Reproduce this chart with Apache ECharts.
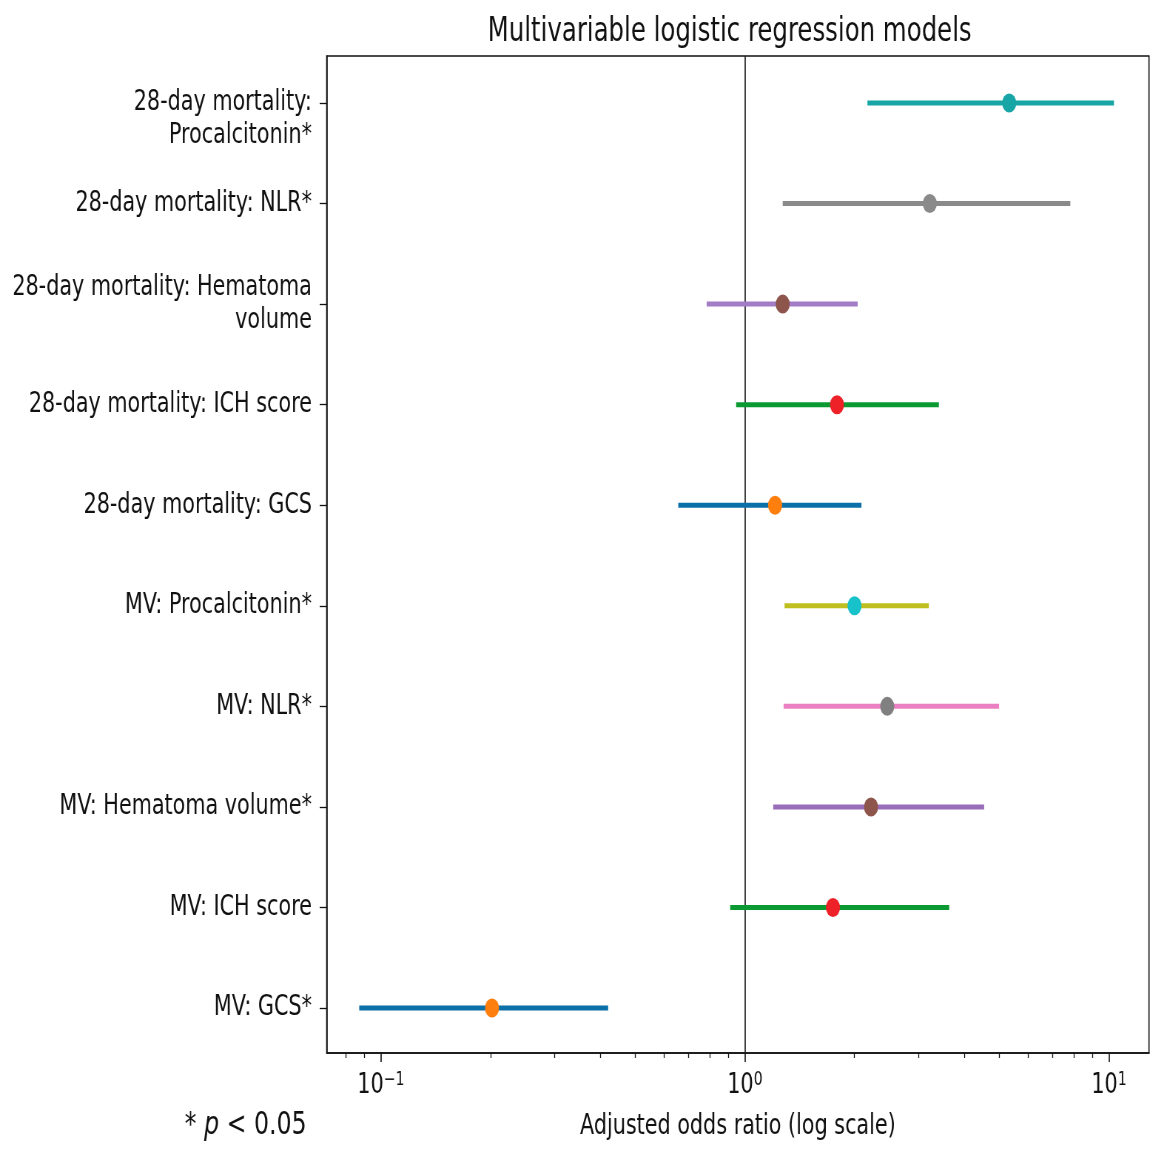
<!DOCTYPE html>
<html><head><meta charset="utf-8">
<script src="https://cdn.jsdelivr.net/npm/echarts@6/dist/echarts.min.js"></script>
<style>
html,body{margin:0;padding:0;overflow:hidden;background:#fff;width:1165px;height:1154px}
#main{width:1575px;height:1154px;transform:scaleX(0.74);transform-origin:0 0;}
</style>
</head><body><div id="main"></div>
<script>
const categories = [
  "28-day mortality:\nProcalcitonin*",
  "28-day mortality: NLR*",
  "28-day mortality: Hematoma\nvolume",
  "28-day mortality: ICH score",
  "28-day mortality: GCS",
  "MV: Procalcitonin*",
  "MV: NLR*",
  "MV: Hematoma volume*",
  "MV: ICH score",
  "MV: GCS*"
];
const oddsRatio = [5.32, 3.22, 1.27, 1.79, 1.21, 2.00, 2.46, 2.22, 1.745, 0.202];
const ciLower   = [2.17, 1.27, 0.785, 0.946, 0.656, 1.285, 1.277, 1.196, 0.911, 0.0872];
const ciUpper   = [10.32, 7.83, 2.04, 3.41, 2.09, 3.20, 4.99, 4.54, 3.64, 0.421];
const lineColors  = ['#17a5a6','#8a8a8a','#a37cc6','#0b9a31','#0b6fa8','#bfbf1f','#ea80c2','#9a6dbb','#0b9a31','#0b6fa8'];
const pointColors = ['#17a5a6','#8a8a8a','#8d554b','#ee2128','#ff7f0e','#17c2cb','#808080','#8d554b','#ee2128','#ff7f0e'];
const xTickValues = [0.1, 1, 10];
const xTickLabels = ['10{s|\u22121}', '10{s|0}', '10{s|1}'];
const xMinorTickValues = [0.08,0.09,0.2,0.3,0.4,0.5,0.6,0.7,0.8,0.9,2,3,4,5,6,7,8,9];
const xRange = [0.0710, 12.88];
const refValue = 1;

const FONT = 'DejaVu Sans';
const lg = v => Math.log10(v);
const chart = echarts.init(document.getElementById('main'));

const ciData = categories.map((c, i) => [lg(ciLower[i]), lg(ciUpper[i]), i]);
const ptData = categories.map((c, i) => ({value: [lg(oddsRatio[i]), i], itemStyle: {color: pointColors[i], opacity: 1}}));

chart.setOption({
  animation: false,
  backgroundColor: '#fff',
  title: {
    text: 'Multivariable logistic regression models',
    left: 986, top: 16, textAlign: 'center', padding: 0,
    textStyle: {fontFamily: FONT, fontSize: 33, fontWeight: 'normal', color: '#111'}
  },
  graphic: [{
    type: 'text', x: 332, y: 1126,
    style: {
      text: '* {i|p} < 0.05', fontFamily: FONT, fontSize: 32, fill: '#111',
      align: 'center', verticalAlign: 'middle',
      rich: {i: {fontFamily: FONT, fontSize: 32, fontStyle: 'italic', color: '#111'}}
    }
  }],
  grid: {left: 441.5, right: 22.3, top: 56, bottom: 101, show: true, borderColor: '#111', borderWidth: 1.6, backgroundColor: 'transparent'},
  xAxis: [{
    type: 'value', min: lg(xRange[0]), max: lg(xRange[1]),
    name: 'Adjusted odds ratio (log scale)', nameLocation: 'middle', nameGap: 60,
    nameTextStyle: {fontFamily: FONT, fontSize: 28, color: '#111'},
    axisLine: {show: true, onZero: false, lineStyle: {color: '#111', width: 1.6}},
    axisTick: {show: true, length: 9, lineStyle: {color: '#111', width: 1.6}, customValues: xTickValues.map(lg)},
    splitLine: {show: false},
    axisLabel: {
      customValues: xTickValues.map(lg), margin: 18,
      formatter: v => { const i = xTickValues.findIndex(t => Math.abs(lg(t) - v) < 1e-6); return i >= 0 ? xTickLabels[i] : ''; },
      fontFamily: FONT, fontSize: 28, color: '#111', lineHeight: 30,
      rich: {s: {fontFamily: FONT, fontSize: 19, color: '#111', verticalAlign: 'top', lineHeight: 30, padding: [0,0,14,0]}}
    }
  }, {
    type: 'value', min: lg(xRange[0]), max: lg(xRange[1]), position: 'bottom',
    axisLine: {show: false, onZero: false},
    axisTick: {show: true, length: 5, lineStyle: {color: '#111', width: 1.3}, customValues: xMinorTickValues.map(lg)},
    axisLabel: {show: false}, splitLine: {show: false}
  }],
  yAxis: {
    type: 'value', inverse: true, min: -0.467, max: 9.447, position: 'left',
    axisLine: {show: true, onZero: false, lineStyle: {color: '#111', width: 1.6}},
    axisTick: {show: true, length: 9.5, lineStyle: {color: '#111', width: 1.3}, customValues: categories.map((c, i) => i)},
    splitLine: {show: false},
    axisLabel: {
      customValues: categories.map((c, i) => i), margin: 20,
      formatter: v => { const i = Math.round(v); return (i === 0 ? '\n' : '') + categories[i]; },
      fontFamily: FONT, fontSize: 28, color: '#111', lineHeight: 33, align: 'right'
    }
  },
  series: [{
    type: 'custom', name: 'CI', xAxisIndex: 0, z: 2,
    encode: {x: [0, 1], y: 2},
    data: ciData,
    renderItem: (params, api) => {
      const idx = api.value(2);
      const p1 = api.coord([api.value(0), idx]);
      const p2 = api.coord([api.value(1), idx]);
      return {type: 'line', shape: {x1: p1[0], y1: p1[1], x2: p2[0], y2: p2[1]},
        style: {stroke: lineColors[idx], lineWidth: 5, lineCap: 'butt'}};
    },
    markLine: {
      silent: true, symbol: ['none', 'none'], label: {show: false}, z: 1,
      lineStyle: {color: '#222', width: 1.7, type: 'solid'},
      data: [{xAxis: lg(refValue)}]
    }
  }, {
    type: 'scatter', name: 'OR', xAxisIndex: 0, z: 3,
    symbol: 'circle', symbolSize: 19,
    itemStyle: {opacity: 1},
    data: ptData
  }]
});
</script></body></html>
